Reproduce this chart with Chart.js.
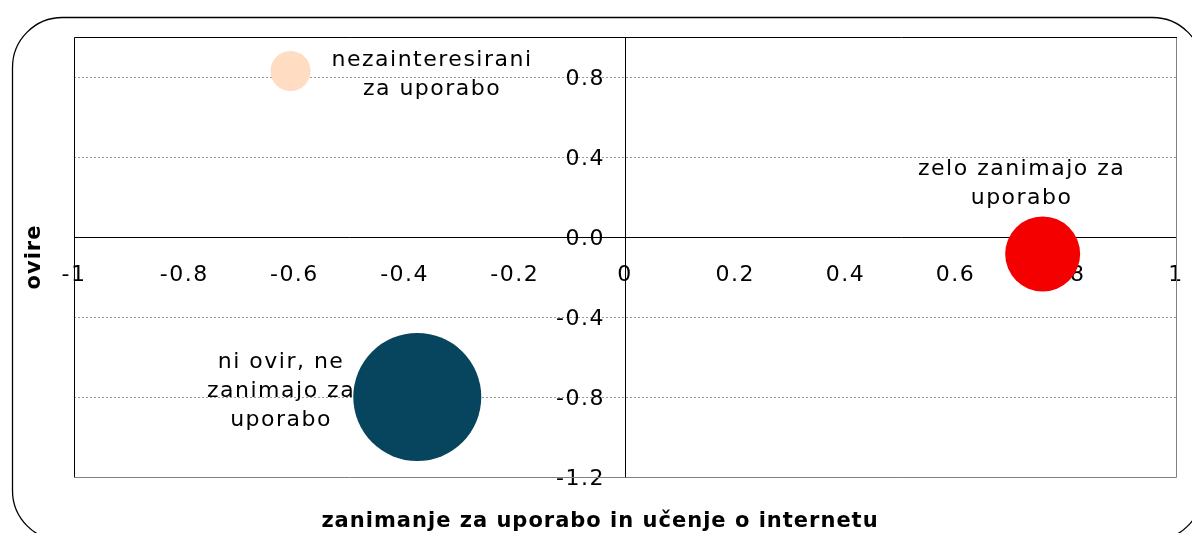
<!DOCTYPE html>
<html>
<head>
<meta charset="utf-8">
<script src="https://cdn.jsdelivr.net/npm/chart.js@4"></script>
<style>
body { margin: 0; background: #fff; }
</style>
</head>
<body>
<canvas id="bubbleChart" width="1192" height="533"></canvas>
<script>
const GROUP_LABELS = [
    ['nezainteresirani', 'za uporabo'],
    ['zelo zanimajo za', 'uporabo'],
    ['ni ovir, ne', 'zanimajo za', 'uporabo']
];
const INTEREST = [-0.607, 0.758, -0.377];
const BARRIERS = [0.83, -0.085, -0.80];
const BUBBLE_SIZE = [20, 37.5, 64];
const BUBBLE_COLORS = ['#FFDCC2', '#F50000', '#07445E'];
const LABEL_X = [-0.352, 0.718, -0.626];
const LABEL_Y = [0.855, 0.31, -0.655];
const X_TICKS = [-1, -0.8, -0.6, -0.4, -0.2, 0, 0.2, 0.4, 0.6, 0.8, 1];
const Y_TICKS = [-1.2, -0.8, -0.4, 0, 0.4, 0.8];
const X_TITLE = 'zanimanje za uporabo in učenje o internetu';
const Y_TITLE = 'ovire';

const FONT = '"DejaVu Sans", Verdana, sans-serif';
const SPACING = '1.5px';

// no margins for the centred axes, the plot area is set by the padding only
function flatAxis(scale) {
    if (scale.isHorizontal()) scale.height = 0; else scale.width = 0;
    scale.paddingLeft = scale.paddingRight = scale.paddingTop = scale.paddingBottom = 0;
}

const outerFrame = {
    id: 'outerFrame',
    beforeDraw(chart) {
        const ctx = chart.ctx;
        ctx.save();
        ctx.strokeStyle = '#000';
        ctx.lineWidth = 1.3;
        ctx.beginPath();
        ctx.roundRect(12.5, 17.5, 1190, 523, 50);
        ctx.stroke();
        ctx.restore();
        ctx.letterSpacing = SPACING;

        // y labels sit left of the x=0 axis
        chart.scales.y.getLabelItems(chart.chartArea).forEach(item => {
            item.options.translation[0] -= 20;
            item.options.translation[1] += 2;
        });
    }
};

const plotFrame = {
    id: 'plotFrame',
    beforeDatasetsDraw(chart) {
        const { left, right, top, bottom } = chart.chartArea;
        const ctx = chart.ctx;
        ctx.save();
        ctx.lineWidth = 1;
        ctx.strokeStyle = '#808080';
        ctx.beginPath();
        ctx.moveTo(Math.round(right) + 0.5, top);
        ctx.lineTo(Math.round(right) + 0.5, Math.round(bottom) + 0.5);
        ctx.lineTo(left, Math.round(bottom) + 0.5);
        ctx.stroke();
        ctx.strokeStyle = '#000';
        ctx.beginPath();
        ctx.moveTo(Math.round(left) + 0.5, Math.round(bottom));
        ctx.lineTo(Math.round(left) + 0.5, Math.round(top) + 0.5);
        ctx.lineTo(Math.round(right) + 1, Math.round(top) + 0.5);
        ctx.stroke();
        ctx.restore();
    }
};

const textLabels = {
    id: 'textLabels',
    afterDraw(chart) {
        const ctx = chart.ctx;
        const xs = chart.scales.x;
        const ys = chart.scales.y;
        ctx.save();
        ctx.fillStyle = '#000';
        ctx.font = '22px ' + FONT;
        ctx.letterSpacing = SPACING;
        ctx.textAlign = 'center';
        ctx.textBaseline = 'alphabetic';
        GROUP_LABELS.forEach((lines, i) => {
            const px = xs.getPixelForValue(LABEL_X[i]);
            const py = ys.getPixelForValue(LABEL_Y[i]);
            lines.forEach((line, j) => {
                ctx.fillText(line, px + 1, py + j * 29);
            });
        });

        const { top, bottom } = chart.chartArea;
        ctx.font = 'bold 21px ' + FONT;
        ctx.letterSpacing = '1px';
        ctx.fillText(X_TITLE, 600, 527);
        ctx.translate(40, (top + bottom) / 2);
        ctx.rotate(-Math.PI / 2);
        ctx.fillText(Y_TITLE, 0, 0);
        ctx.restore();
    }
};

new Chart(document.getElementById('bubbleChart'), {
    type: 'bubble',
    data: {
        datasets: [{
            label: 'skupine',
            data: INTEREST.map((x, i) => ({ x: x, y: BARRIERS[i], r: BUBBLE_SIZE[i] })),
            backgroundColor: BUBBLE_COLORS,
            borderWidth: 0
        }]
    },
    options: {
        responsive: false,
        animation: false,
        events: [],
        layout: {
            autoPadding: false,
            padding: { left: 74, top: 37, right: 16, bottom: 56 }
        },
        scales: {
            x: {
                type: 'linear',
                min: -1,
                max: 1,
                position: { y: 0 },
                afterBuildTicks: scale => { scale.ticks = X_TICKS.map(v => ({ value: v })); },
                afterFit: flatAxis,
                grid: { display: false, drawTicks: false },
                border: { display: true, color: '#000', width: 1 },
                ticks: {
                    padding: 25,
                    color: '#000',
                    font: { family: FONT, size: 22 },
                    maxRotation: 0,
                    autoSkip: false,
                    callback: value => String(Number(value.toFixed(1)))
                }
            },
            y: {
                type: 'linear',
                min: -1.2,
                max: 1,
                position: { x: 0 },
                afterBuildTicks: scale => { scale.ticks = Y_TICKS.map(v => ({ value: v })); },
                afterFit: flatAxis,
                grid: {
                    drawTicks: false,
                    color: ctx => (Math.abs(ctx.tick.value) < 1e-9 || ctx.tick.value < -1.1) ? 'rgba(0,0,0,0)' : '#999',
                    lineWidth: 1
                },
                border: { display: true, color: '#000', width: 1, dash: [2, 2] },
                ticks: {
                    padding: 0,
                    color: '#000',
                    font: { family: FONT, size: 22 },
                    autoSkip: false,
                    callback: value => value.toFixed(1)
                }
            }
        },
        plugins: {
            legend: { display: false },
            tooltip: { enabled: false }
        }
    },
    plugins: [outerFrame, plotFrame, textLabels]
});
</script>
</body>
</html>
